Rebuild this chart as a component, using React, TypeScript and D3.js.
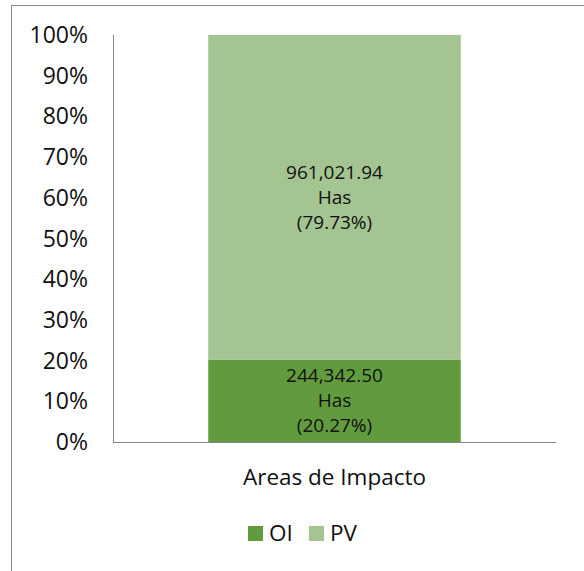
import * as d3 from "d3";
import React from "react";

const categories = ["Areas de Impacto"];
const seriesNames = ["OI", "PV"];
const seriesHas = [244342.5, 961021.94];
const seriesPct = [20.27, 79.73];
const seriesColors = ["#629B3E", "#A4C592"];
const yTicks = [0, 10, 20, 30, 40, 50, 60, 70, 80, 90, 100];

const W = 584;
const H = 571;
const FONT = "'Open Sans', sans-serif";

const App: React.FC = () => {
  const plot = { left: 113, right: 556, top: 35, bottom: 442 };

  const x = d3
    .scaleBand<string>()
    .domain(categories)
    .range([plot.left, plot.right])
    .paddingInner(0.43)
    .paddingOuter(0.215);

  const y = d3.scaleLinear().domain([0, 100]).range([plot.bottom, plot.top]);

  // stack the percentages
  const stack = seriesPct.map((v, i) => {
    const y0 = d3.sum(seriesPct.slice(0, i));
    return { name: seriesNames[i], y0, y1: y0 + v, has: seriesHas[i], pct: v, color: seriesColors[i] };
  });

  const fmtHas = d3.format(",.2f");
  const cat = categories[0];
  const bx = x(cat)!;
  const bw = x.bandwidth();
  const cx = bx + bw / 2;

  return (
    <svg
      width={W}
      height={H}
      style={{ position: "absolute", left: 0, top: 0, background: "#fff" }}
      fontFamily={FONT}
    >
      <rect x={11.5} y={5.5} width={W + 10} height={H + 10} fill="#fff" stroke="#8c8c8c" strokeWidth={1} />

      {stack.map((s) => (
        <rect
          key={s.name}
          x={bx}
          y={y(s.y1)}
          width={bw}
          height={y(s.y0) - y(s.y1)}
          fill={s.color}
        />
      ))}

      {stack.map((s) => {
        const my = (y(s.y0) + y(s.y1)) / 2;
        const lines = [fmtHas(s.has), "Has", `(${s.pct.toFixed(2)}%)`];
        return (
          <text key={s.name} x={cx} textAnchor="middle" fontSize={19} fill="#111">
            {lines.map((l, j) => (
              <tspan key={j} x={cx} y={my + (j - 1) * 25} dy="0.35em">
                {l}
              </tspan>
            ))}
          </text>
        );
      })}

      <line x1={plot.left + 0.5} x2={plot.left + 0.5} y1={plot.top} y2={plot.bottom} stroke="#868686" />
      <line x1={plot.left} x2={plot.right} y1={plot.bottom + 0.5} y2={plot.bottom + 0.5} stroke="#868686" />

      {yTicks.map((t) => (
        <text key={t} x={88} y={y(t)} dy="0.35em" textAnchor="end" fontSize={23} fill="#111">
          {t}%
        </text>
      ))}

      <text x={cx} y={477} dy="0.35em" textAnchor="middle" fontSize={22.5} fill="#111">
        {cat}
      </text>

      {seriesNames.map((n, i) => {
        const lx = [248, 309][i];
        return (
          <g key={n}>
            <rect x={lx} y={526} width={15} height={15} fill={seriesColors[i]} />
            <text x={lx + 21} y={533.5} dy="0.35em" fontSize={22.5} fill="#111">
              {n}
            </text>
          </g>
        );
      })}
    </svg>
  );
};

export default App;
